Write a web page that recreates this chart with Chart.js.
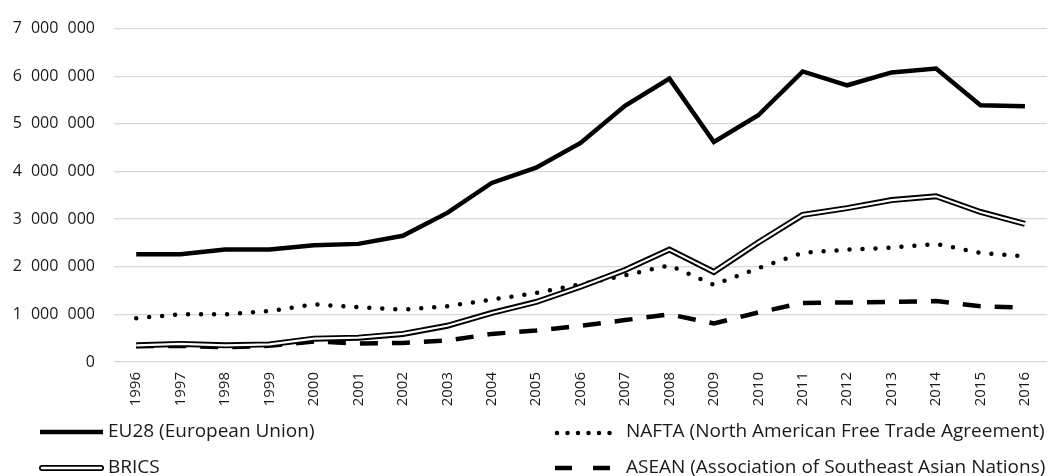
<!DOCTYPE html>
<html>
<head>
<meta charset="utf-8">
<script src="https://cdn.jsdelivr.net/npm/chart.js@4"></script>
<style>
  html, body { margin: 0; padding: 0; background: #fff; }
  #wrap { width: 1053px; height: 476px; }
</style>
</head>
<body>
<div id="wrap"><canvas id="canvas"></canvas></div>
<script>
// years on the x axis
var years = ['1996','1997','1998','1999','2000','2001','2002','2003','2004','2005','2006',
             '2007','2008','2009','2010','2011','2012','2013','2014','2015','2016'];

// values
var eu28  = [2260000,2260000,2360000,2360000,2450000,2480000,2650000,3130000,3760000,4080000,4600000,
             5380000,5950000,4620000,5180000,6100000,5810000,6080000,6160000,5390000,5370000];
var nafta = [920000,1000000,1000000,1070000,1210000,1150000,1100000,1170000,1310000,1450000,1630000,
             1820000,2030000,1620000,1970000,2290000,2360000,2400000,2480000,2290000,2220000];
var brics = [350000,380000,350000,370000,490000,510000,590000,760000,1030000,1260000,1580000,
             1930000,2360000,1890000,2510000,3090000,3230000,3400000,3480000,3150000,2900000];
var asean = [330000,340000,310000,340000,430000,390000,400000,450000,590000,660000,760000,
             880000,1000000,810000,1040000,1240000,1250000,1260000,1280000,1170000,1140000];

var legendNames = ['EU28 (European Union)', 'NAFTA (North American Free Trade Agreement)',
                   'BRICS', 'ASEAN (Association of Southeast Asian Nations)'];

var yMax = 7000000;
var yStep = 1000000;

function fmt(v) {
    // thousands separated by a figure space
    return String(v).replace(/\B(?=(\d{3})+(?!\d))/g, '\u2007');
}

// legend drawn on the canvas in two columns, like the original
var legendPlugin = {
    id: 'twoColLegend',
    afterDraw: function(chart) {
        var ctx = chart.ctx;
        ctx.save();
        ctx.font = '19px "Open Sans"';
        ctx.fillStyle = '#1a1a1a';
        ctx.textBaseline = 'middle';
        ctx.strokeStyle = '#000';

        // EU28
        ctx.lineWidth = 4.5;
        ctx.setLineDash([]);
        ctx.beginPath(); ctx.moveTo(40, 432); ctx.lineTo(103, 432); ctx.stroke();
        ctx.fillText(legendNames[0], 108, 432);

        // BRICS
        ctx.lineWidth = 6;
        ctx.lineCap = 'round';
        ctx.beginPath(); ctx.moveTo(42, 468); ctx.lineTo(101, 468); ctx.stroke();
        ctx.strokeStyle = '#fff';
        ctx.lineWidth = 2.5;
        ctx.beginPath(); ctx.moveTo(42, 468); ctx.lineTo(101, 468); ctx.stroke();
        ctx.fillText(legendNames[2], 108, 468);

        // NAFTA
        ctx.strokeStyle = '#000';
        ctx.lineWidth = 4.5;
        ctx.setLineDash([0, 10.5]);
        ctx.beginPath(); ctx.moveTo(557, 433); ctx.lineTo(613, 433); ctx.stroke();
        ctx.fillText(legendNames[1], 626, 432);

        // ASEAN
        ctx.lineCap = 'butt';
        ctx.setLineDash([17, 21]);
        ctx.beginPath(); ctx.moveTo(555, 468); ctx.lineTo(611, 468); ctx.stroke();
        ctx.fillText(legendNames[3], 626, 468);
        ctx.restore();
    }
};

var ctx = document.getElementById('canvas').getContext('2d');
var config = {
    type: 'line',
    data: {
        labels: years,
        datasets: [{
            label: legendNames[0],
            data: eu28,
            borderColor: '#000',
            borderWidth: 4.5,
            order: 2
        }, {
            label: legendNames[1],
            data: nafta,
            borderColor: '#000',
            borderWidth: 4.5,
            borderDash: [0, 13],
            borderCapStyle: 'round',
            order: 3
        }, {
            label: legendNames[2],
            data: brics,
            borderColor: '#000',
            borderWidth: 6,
            order: 1
        }, {
            label: legendNames[2] + ' inner',
            data: brics,
            borderColor: '#fff',
            borderWidth: 2.2,
            order: 0
        }, {
            label: legendNames[3],
            data: asean,
            borderColor: '#000',
            borderWidth: 4.5,
            borderDash: [18, 14],
            order: 4
        }]
    },
    options: {
        responsive: true,
        maintainAspectRatio: false,
        animation: false,
        elements: { point: { radius: 0 }, line: { tension: 0 } },
        layout: { padding: { top: 22, right: 4, left: 0, bottom: 0 } },
        plugins: {
            legend: { display: false },
            tooltip: { enabled: false }
        },
        scales: {
            x: {
                offset: true,
                grid: { display: false, drawTicks: false },
                border: { display: false },
                ticks: {
                    autoSkip: false,
                    minRotation: 90,
                    maxRotation: 90,
                    padding: 10,
                    color: '#1a1a1a',
                    font: { family: 'Open Sans', size: 15 }
                },
                afterFit: function(scale) { scale.height = 114; }
            },
            y: {
                min: 0,
                max: yMax,
                grid: { color: '#d9d9d9', lineWidth: 1.3, drawTicks: false },
                border: { display: false },
                ticks: {
                    stepSize: yStep,
                    padding: 19,
                    color: '#1a1a1a',
                    font: { family: 'Open Sans', size: 16 },
                    callback: function(v) { return fmt(v); }
                },
                afterFit: function(scale) { scale.width = 114; }
            }
        }
    },
    plugins: [legendPlugin]
};

var chart = new Chart(ctx, config);
</script>
</body>
</html>
